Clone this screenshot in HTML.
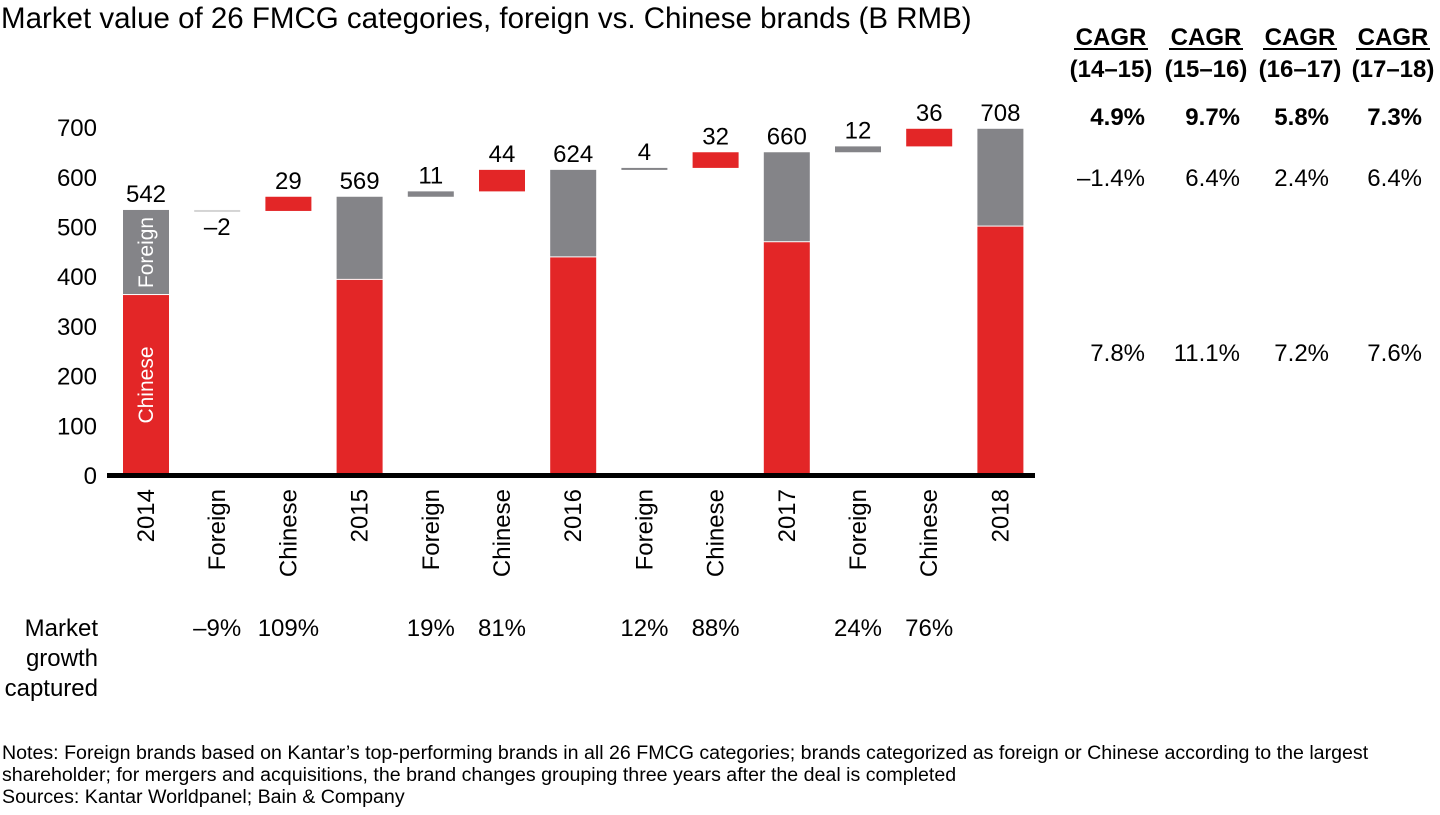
<!DOCTYPE html>
<html><head><meta charset="utf-8"><style>
body{margin:0;background:#fff;font-family:"Liberation Sans",Arial,sans-serif;}
svg text{font-family:"Liberation Sans",Arial,sans-serif;}
</style></head><body>
<svg id="chart" width="1440" height="810" xmlns="http://www.w3.org/2000/svg">
<text x="1" y="28" font-size="29.5" fill="#000">Market value of 26 FMCG categories, foreign vs. Chinese brands (B RMB)</text>
<g id="bars"></g>
<g id="axis"></g>
<g id="cagr"></g>
<text font-size="19.6" fill="#000">
<tspan x="2" y="759">Notes: Foreign brands based on Kantar’s top-performing brands in all 26 FMCG categories; brands categorized as foreign or Chinese according to the largest</tspan>
<tspan x="2" y="781">shareholder; for mergers and acquisitions, the brand changes grouping three years after the deal is completed</tspan>
<tspan x="2" y="803">Sources: Kantar Worldpanel; Bain &amp; Company</tspan>
</text>
</svg>
<script>
const categories=["2014","Foreign","Chinese","2015","Foreign","Chinese","2016","Foreign","Chinese","2017","Foreign","Chinese","2018"];
const totals=[542,569,624,660,708];
const chineseBase=[368,399,445,476,508];
const deltas=[-2,29,11,44,4,32,12,36];
const captured=["–9%","109%","19%","81%","12%","88%","24%","76%"];
const yTicks=[0,100,200,300,400,500,600,700];
const cagrHeads=["(14–15)","(15–16)","(16–17)","(17–18)"];
const cagrTotal=["4.9%","9.7%","5.8%","7.3%"];
const cagrForeign=["–1.4%","6.4%","2.4%","6.4%"];
const cagrChinese=["7.8%","11.1%","7.2%","7.6%"];

const NS="http://www.w3.org/2000/svg";
const y0=475,k=0.489,kt=0.497,x0=146,step=71.2,bw=46;
const Y=v=>y0-v*k;
const YT=v=>y0-v*kt;
const X=i=>x0+i*step;
const bars=document.getElementById('bars'),axis=document.getElementById('axis'),cg=document.getElementById('cagr');
function mk(tag,attrs,parent,txt){const e=document.createElementNS(NS,tag);for(const a in attrs)e.setAttribute(a,attrs[a]);if(txt!==undefined)e.textContent=txt;parent.appendChild(e);return e;}
const RED="#e32627",GRAY="#848488";
let ti=0,di=0,running=totals[0];
for(let i=0;i<categories.length;i++){
  const cx=X(i);
  if(i%3===0){
    const t=totals[ti],c=chineseBase[ti];
    let r=mk('rect',{x:cx-bw/2,y:Y(c),width:bw,height:Y(0)-Y(c),fill:RED},bars);
    
    
    r=mk('rect',{x:cx-bw/2,y:Y(t),width:bw,height:Y(c)-Y(t)-1,fill:GRAY},bars);
    
    
    let l=mk('text',{x:cx,y:Y(t)-8,'font-size':24,'text-anchor':'middle'},bars,String(t));
    
    
    running=t;ti++;
  } else {
    const d=deltas[di];const isF=(i%3===1);
    const top=Y(Math.max(running,running+d)),bot=Y(Math.min(running,running+d));
    const h=Math.max(bot-top,2);
    let r=mk('rect',{x:cx-bw/2,y:top,width:bw,height:h,fill:isF?(d<0?"#d4d4d4":GRAY):RED},bars);
    
    
    const ly=d<0?bot+24:top-8;
    let l=mk('text',{x:cx,y:ly,'font-size':24,'text-anchor':'middle'},bars,d<0?'–'+Math.abs(d):String(d));
    
    
    let p=mk('text',{x:cx,y:636,'font-size':24,'text-anchor':'middle'},bars,captured[di]);
    
    
    running+=d;di++;
  }
  let cl=mk('text',{transform:`translate(${cx+8},489) rotate(-90)`,'font-size':24,'text-anchor':'end'},axis,categories[i]);
  
  
}
let s=mk('text',{transform:`translate(${X(0)+7},${Y((chineseBase[0])/2)}) rotate(-90)`,'font-size':21,fill:'#fff','text-anchor':'middle'},bars,'Chinese');

s=mk('text',{transform:`translate(${X(0)+7},${Y((chineseBase[0]+totals[0])/2)}) rotate(-90)`,'font-size':21,fill:'#fff','text-anchor':'middle'},bars,'Foreign');

let ax=mk('rect',{x:107,y:473,width:928,height:5,fill:'#000'},axis);

yTicks.forEach(v=>{let t=mk('text',{x:97,y:YT(v)+9,'font-size':24,'text-anchor':'end'},axis,String(v));
});
let mg=mk('text',{'font-size':24,'text-anchor':'end'},axis);

["Market","growth","captured"].forEach((w,j)=>mk('tspan',{x:98,y:636+j*30},mg,w));
const cx=[1111,1206,1300,1393];
const rx=[1145,1240,1329,1422];
cx.forEach((x,j)=>{
  let h=mk('text',{x:x,y:45,'font-size':24,'font-weight':'bold','text-anchor':'middle'},cg,'CAGR');
  
  mk('line',{x1:x-37,x2:x+37,y1:49,y2:49,stroke:'#000','stroke-width':2},cg);
  mk('text',{x:x,y:77,'font-size':24,'font-weight':'bold','text-anchor':'middle'},cg,cagrHeads[j]);
  let a=mk('text',{x:rx[j],y:125,'font-size':24,'font-weight':'bold','text-anchor':'end'},cg,cagrTotal[j]);
  
  a=mk('text',{x:rx[j],y:186,'font-size':24,'text-anchor':'end'},cg,cagrForeign[j]);
  
  a=mk('text',{x:rx[j],y:361,'font-size':24,'text-anchor':'end'},cg,cagrChinese[j]);
  
});
</script>
</body></html>
